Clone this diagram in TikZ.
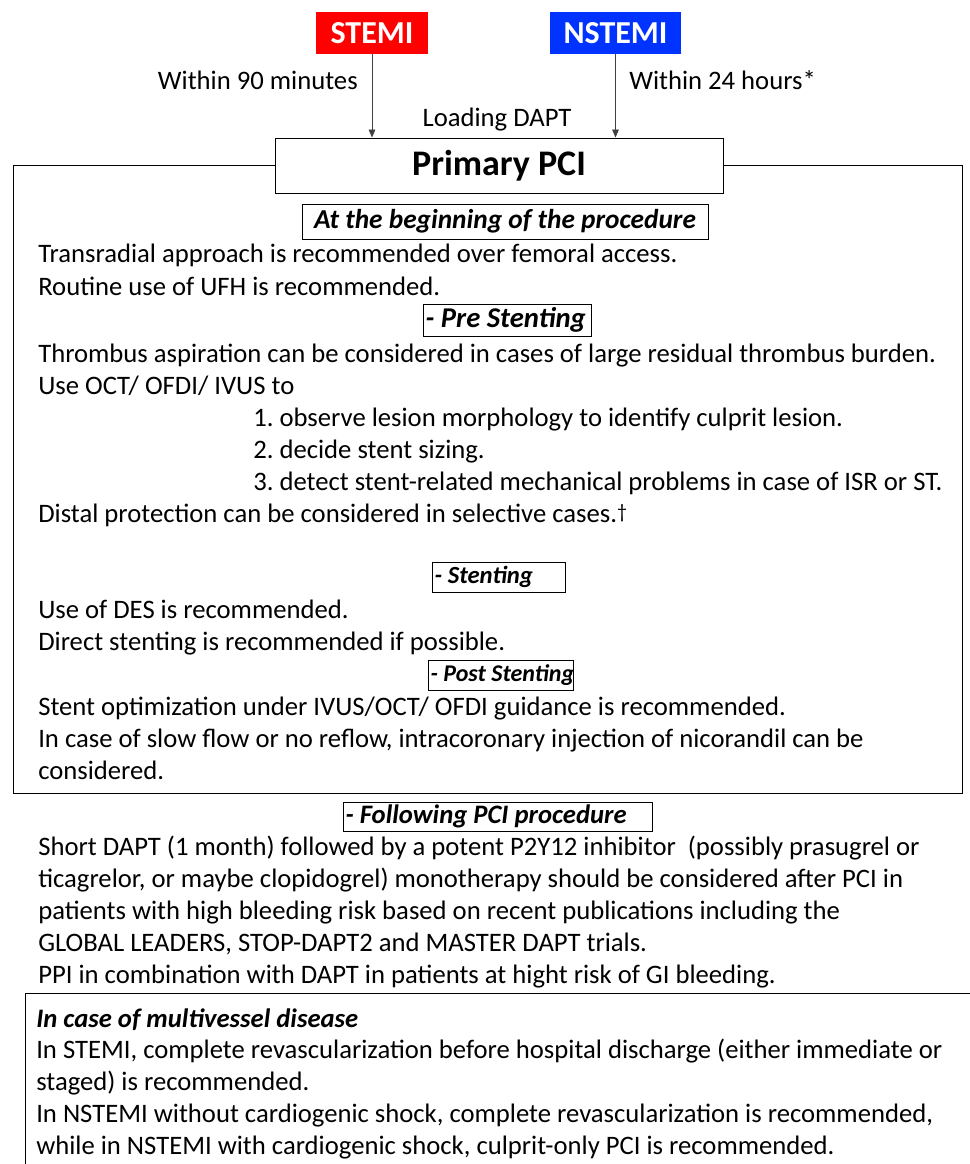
\documentclass[tikz,border=0pt]{standalone}
\usepackage{fontspec}
\setmainfont{Carlito}
\usetikzlibrary{arrows.meta}
\definecolor{stemired}{RGB}{255,0,0}
\definecolor{nstemiblue}{RGB}{0,51,255}
\frenchspacing

\begin{document}
\begin{tikzpicture}[x=0.75pt,y=-0.75pt,
    txt/.style={anchor=base west, inner sep=0pt, font=\fontsize{20}{24}\selectfont},
    head/.style={draw, inner xsep=2pt, inner ysep=0pt, font=\fontsize{#1}{24}\selectfont\bfseries\itshape},
    head/.default=20,
    tag/.style={text=white, inner sep=0pt, font=\fontsize{24}{28}\selectfont\bfseries},
    flow/.style={draw=black!75, line width=0.6pt, -{Triangle[length=6pt,width=5pt]}}]
    \useasboundingbox (0,0) rectangle (970,1164);

    % entry points
    \node[tag, fill=stemired, minimum width=84pt, minimum height=31.5pt] (stemi) at (372,33) {STEMI};
    \node[tag, fill=nstemiblue, minimum width=98.25pt, minimum height=31.5pt] (nstemi) at (615.5,33) {NSTEMI};
    \node[txt, anchor=base east] (w90) at (358,89) {Within 90 minutes};
    \node[txt] (w24) at (629,89) {Within 24 hours*};
    \node[txt, anchor=base] (load) at (497,126) {Loading DAPT};

    % main frame
    \draw[line width=0.75pt] (13,165.5) -- (13,793) -- (962,793) -- (962,165.5) -- cycle;
    \node[draw, fill=white, line width=0.75pt, minimum width=336pt, minimum height=41.25pt,
        font=\fontsize{27}{32}\selectfont\bfseries] (pci) at (499,165.5) {Primary PCI};
    \draw[flow] (stemi.south) -- (stemi.south |- pci.north);
    \draw[flow] (nstemi.south) -- (nstemi.south |- pci.north);

    % at the beginning
    \node[head=20.5, minimum height=26.25pt] (hbegin) at (505,221.5) {\makebox[300.5pt][c]{At the beginning of the procedure}};
    \node[txt] (b1) at (38,262) {Transradial approach is recommended over femoral access.};
    \node[txt] (b2) at (38,295) {Routine use of UFH is recommended.};

    % pre stenting
    \node[head=21.5, minimum height=24pt] (hpre) at (507,320) {\makebox[122pt][l]{- Pre Stenting}};
    \node[txt] (p1) at (38,362) {Thrombus aspiration can be considered in cases of large residual thrombus burden.};
    \node[txt] (p2) at (38,394) {Use OCT/ OFDI/ IVUS to};
    \node[txt] (p3) at (253,426) {1. observe lesion morphology to identify culprit lesion.};
    \node[txt] (p4) at (253,458) {2. decide stent sizing.};
    \node[txt] (p5) at (253,490) {3. detect stent-related mechanical problems in case of ISR or ST.};
    \node[txt] (p6) at (38,522) {Distal protection can be considered in selective cases.\raisebox{3pt}{\fontsize{15}{15}\selectfont †}};

    % stenting
    \node[head=18.5, minimum height=22.5pt] (hstent) at (498.5,577) {\makebox[95.75pt][l]{- Stenting}};
    \node[txt] (s1) at (38,618) {Use of DES is recommended.};
    \node[txt] (s2) at (38,650) {Direct stenting is recommended if possible.};

    % post stenting
    \node[head=18, minimum height=22.5pt] (hpost) at (500.5,675) {\makebox[104.75pt][l]{- Post Stenting}};
    \node[txt] (q1) at (38,715) {Stent optimization under IVUS/OCT/ OFDI guidance is recommended.};
    \node[txt] (q2) at (38,747) {In case of slow flow or no reflow, intracoronary injection of nicorandil can be};
    \node[txt] (q3) at (38,779) {considered.};

    % following PCI
    \node[head, minimum height=21.75pt] (hfollow) at (497.5,816.5) {\makebox[227.75pt][l]{- Following PCI procedure}};
    \node[txt] (f1) at (38,855) {Short DAPT (1 month) followed by a potent P2Y12 inhibitor~ (possibly prasugrel or};
    \node[txt] (f2) at (38,887) {ticagrelor, or maybe clopidogrel) monotherapy should be considered after PCI in};
    \node[txt] (f3) at (38,919) {patients with high bleeding risk based on recent publications including the};
    \node[txt] (f4) at (38,951) {GLOBAL LEADERS, STOP-DAPT2 and MASTER DAPT trials.};
    \node[txt] (f5) at (38,983) {PPI in combination with DAPT in patients at hight risk of GI bleeding.};

    % multivessel
    \begin{scope}
        \clip (0,0) rectangle (970,1164);
        \draw[line width=0.75pt] (25,993) rectangle (990,1190);
    \end{scope}
    \node[txt, font=\fontsize{20}{24}\selectfont\bfseries\itshape] (m0) at (36,1027) {In case of multivessel disease};
    \node[txt] (m1) at (36,1058) {In STEMI, complete revascularization before hospital discharge (either immediate or};
    \node[txt] (m2) at (36,1090) {staged) is recommended.};
    \node[txt] (m3) at (36,1122) {In NSTEMI without cardiogenic shock, complete revascularization is recommended,};
    \node[txt] (m4) at (36,1154) {while in NSTEMI with cardiogenic shock, culprit-only PCI is recommended.};
\end{tikzpicture}
\end{document}
